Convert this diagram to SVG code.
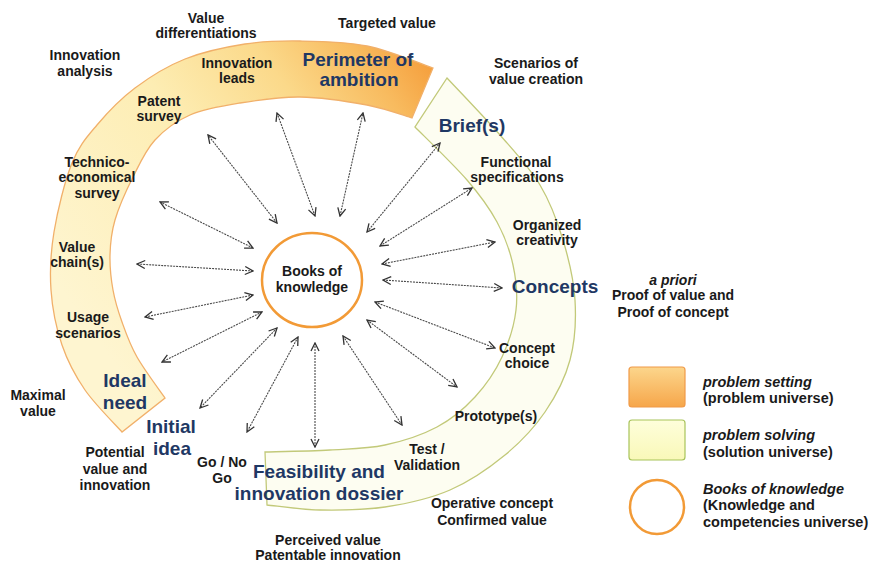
<svg xmlns="http://www.w3.org/2000/svg" width="879" height="566" viewBox="0 0 879 566">
<defs>
<style>
text{font-family:"Liberation Sans",Arial,sans-serif;font-weight:bold;}
.s{font-size:14px;fill:#1a1a1a;text-anchor:middle;}
.b{font-size:19px;fill:#1f3864;text-anchor:middle;}
.lg{font-size:14.5px;fill:#1a1a1a;}
.it{font-style:italic;}
.conn line{stroke:#4a4a4a;stroke-width:1.1;stroke-dasharray:2 1;fill:none;marker-start:url(#ah);marker-end:url(#ah);}
</style>
<marker id="ah" viewBox="0 0 10 10" refX="9" refY="5" markerWidth="10" markerHeight="10" markerUnits="userSpaceOnUse" orient="auto-start-reverse">
<path d="M1,1 L9,5 L1,9" fill="none" stroke="#333" stroke-width="1.3"/>
</marker>
<linearGradient id="og" gradientUnits="userSpaceOnUse" x1="90" y1="330" x2="440" y2="80">
<stop offset="0" stop-color="#fef5d0"/>
<stop offset="0.45" stop-color="#fdedb3"/>
<stop offset="0.7" stop-color="#fbd98a"/>
<stop offset="0.88" stop-color="#f8bb5f"/>
<stop offset="1" stop-color="#f5a03e"/>
</linearGradient>
<linearGradient id="lo" x1="0" y1="0" x2="0" y2="1">
<stop offset="0" stop-color="#fcd68c"/>
<stop offset="1" stop-color="#f6a64a"/>
</linearGradient>
<linearGradient id="lgn" x1="0" y1="0" x2="0" y2="1">
<stop offset="0" stop-color="#fefedb"/>
<stop offset="1" stop-color="#f9f8b8"/>
</linearGradient>
</defs>
<rect width="879" height="566" fill="#ffffff"/>

<g id="problem-band">
<path d="M122,432 C115.8,425 95,404.5 85,390 C75,375.5 67.7,361.7 62,345 C56.3,328.3 52.3,308.8 51,290 C49.7,271.2 50.5,253.2 54,232 C57.5,210.8 64.8,180.8 72,163 C79.2,145.2 86.5,137.5 97,125 C107.5,112.5 120.3,99 135,88 C149.7,77 166.7,66.3 185,59 C203.3,51.7 225.8,47 245,44 C264.2,41 279.7,40.7 300,41 C320.3,41.3 344.8,41.5 367,46 C389.2,50.5 422,64.3 433,68 L412,118 C404.5,115.8 385.7,108.5 367,105 C348.3,101.5 321.2,97.3 300,97 C278.8,96.7 258.3,100 240,103 C221.7,106 204.2,108.8 190,115 C175.8,121.2 164.5,129.7 155,140 C145.5,150.3 139.7,163.7 133,177 C126.3,190.3 118.8,207 115,220 C111.2,233 110.3,243.3 110,255 C109.7,266.7 111,278.8 113,290 C115,301.2 118,310.8 122,322 C126,333.2 129.8,344.3 137,357 C144.2,369.7 160.3,391.2 165,398 Z" fill="url(#og)" stroke="#f1b06a" stroke-width="1.3"/>
</g>

<g id="solution-band">
<path d="M447,78 C455.8,87.5 484.5,117.2 500,135 C515.5,152.8 529.5,167.5 540,185 C550.5,202.5 557.2,220.8 563,240 C568.8,259.2 573.8,280 575,300 C576.2,320 575,341.3 570,360 C565,378.7 555.8,396.2 545,412 C534.2,427.8 520.8,442 505,455 C489.2,468 470,481.3 450,490 C430,498.7 406.7,503.7 385,507 C363.3,510.3 339.7,510.3 320,510 C300.3,509.7 275.8,505.8 267,505 L265,452 C275.8,451.7 310,451.2 330,450 C350,448.8 367.2,448.8 385,445 C402.8,441.2 422,435 437,427 C452,419 464.2,408.7 475,397 C485.8,385.3 495.2,371.5 502,357 C508.8,342.5 514.2,325.3 516,310 C517.8,294.7 516.2,279.7 513,265 C509.8,250.3 504.7,236.2 497,222 C489.3,207.8 480.7,195.8 467,180 C453.3,164.2 423.7,135.8 415,127 Z" fill="#fdfdf1" stroke="#c2c979" stroke-width="1.3"/>
</g>

<g id="connectors" class="conn">
<line x1="277" y1="223" x2="208" y2="135"/>
<line x1="315" y1="216" x2="277" y2="113"/>
<line x1="340" y1="216" x2="363" y2="113"/>
<line x1="367" y1="232" x2="440" y2="143"/>
<line x1="380" y1="246" x2="472" y2="188"/>
<line x1="382" y1="264" x2="495" y2="242"/>
<line x1="383" y1="280" x2="502" y2="288"/>
<line x1="375" y1="302" x2="495" y2="348"/>
<line x1="367" y1="320" x2="457" y2="387"/>
<line x1="343" y1="336" x2="402" y2="425"/>
<line x1="315" y1="343" x2="315" y2="447"/>
<line x1="298" y1="337" x2="247" y2="432"/>
<line x1="277" y1="328" x2="200" y2="408"/>
<line x1="262" y1="312" x2="162" y2="362"/>
<line x1="253" y1="295" x2="145" y2="317"/>
<line x1="253" y1="271" x2="137" y2="264"/>
<line x1="253" y1="248" x2="160" y2="202"/>
</g>

<g id="books-of-knowledge">
<ellipse cx="312" cy="280" rx="50" ry="47" fill="#ffffff" stroke="#f29a36" stroke-width="2.5"/>
<text class="s" x="312" y="276">Books of</text>
<text class="s" x="312" y="292">knowledge</text>
</g>

<g id="perimeter-of-ambition">
<text class="b" x="358" y="66">Perimeter of</text>
<text class="b" x="359" y="86">ambition</text>
</g>
<g id="briefs"><text class="b" x="472" y="132">Brief(s)</text></g>
<g id="concepts"><text class="b" x="555" y="293">Concepts</text></g>
<g id="ideal-need">
<text class="b" x="125" y="387">Ideal</text>
<text class="b" x="125" y="409">need</text>
</g>
<g id="initial-idea">
<text class="b" x="171" y="433">Initial</text>
<text class="b" x="172" y="455">idea</text>
</g>
<g id="feasibility">
<text class="b" x="319" y="478">Feasibility and</text>
<text class="b" x="319" y="500">innovation dossier</text>
</g>

<g id="labels">
<text class="s" x="206" y="23">Value</text>
<text class="s" x="206" y="38">differentiations</text>
<text class="s" x="387" y="28">Targeted value</text>
<text class="s" x="85" y="60">Innovation</text>
<text class="s" x="85" y="76">analysis</text>
<text class="s" x="237" y="68">Innovation</text>
<text class="s" x="237" y="83">leads</text>
<text class="s" x="159" y="106">Patent</text>
<text class="s" x="159" y="121">survey</text>
<text class="s" x="97" y="167">Technico-</text>
<text class="s" x="97" y="182">economical</text>
<text class="s" x="97" y="198">survey</text>
<text class="s" x="77" y="252">Value</text>
<text class="s" x="77" y="267">chain(s)</text>
<text class="s" x="88" y="322">Usage</text>
<text class="s" x="88" y="338">scenarios</text>
<text class="s" x="38" y="400">Maximal</text>
<text class="s" x="38" y="416">value</text>
<text class="s" x="222" y="467">Go / No</text>
<text class="s" x="222" y="483">Go</text>
<text class="s" x="115" y="457">Potential</text>
<text class="s" x="115" y="474">value and</text>
<text class="s" x="115" y="490">innovation</text>
<text class="s" x="328" y="545">Perceived value</text>
<text class="s" x="328" y="560">Patentable innovation</text>
<text class="s" x="427" y="454">Test /</text>
<text class="s" x="427" y="470">Validation</text>
<text class="s" x="492" y="508">Operative concept</text>
<text class="s" x="492" y="525">Confirmed value</text>
<text class="s" x="496" y="421">Prototype(s)</text>
<text class="s" x="527" y="353">Concept</text>
<text class="s" x="527" y="368">choice</text>
<text class="s it" x="673" y="285">a priori</text>
<text class="s" x="673" y="300">Proof of value and</text>
<text class="s" x="673" y="317">Proof of concept</text>
<text class="s" x="547" y="230">Organized</text>
<text class="s" x="547" y="245">creativity</text>
<text class="s" x="516" y="167">Functional</text>
<text class="s" x="517" y="182">specifications</text>
<text class="s" x="536" y="68">Scenarios of</text>
<text class="s" x="536" y="84">value creation</text>
</g>

<g id="legend">
<rect x="629" y="367" width="56" height="40" rx="3" fill="url(#lo)" stroke="#f09a48" stroke-width="1.2"/>
<rect x="629" y="420" width="56" height="40" rx="3" fill="url(#lgn)" stroke="#a8c35a" stroke-width="1.2"/>
<circle cx="657" cy="507" r="27" fill="#ffffff" stroke="#f29a36" stroke-width="2.5"/>
<text class="lg it" x="703" y="387">problem setting</text>
<text class="lg" x="703" y="403">(problem universe)</text>
<text class="lg it" x="703" y="440">problem solving</text>
<text class="lg" x="703" y="457">(solution universe)</text>
<text class="lg it" x="703" y="494">Books of knowledge</text>
<text class="lg" x="703" y="510">(Knowledge and</text>
<text class="lg" x="703" y="527">competencies universe)</text>
</g>
</svg>
